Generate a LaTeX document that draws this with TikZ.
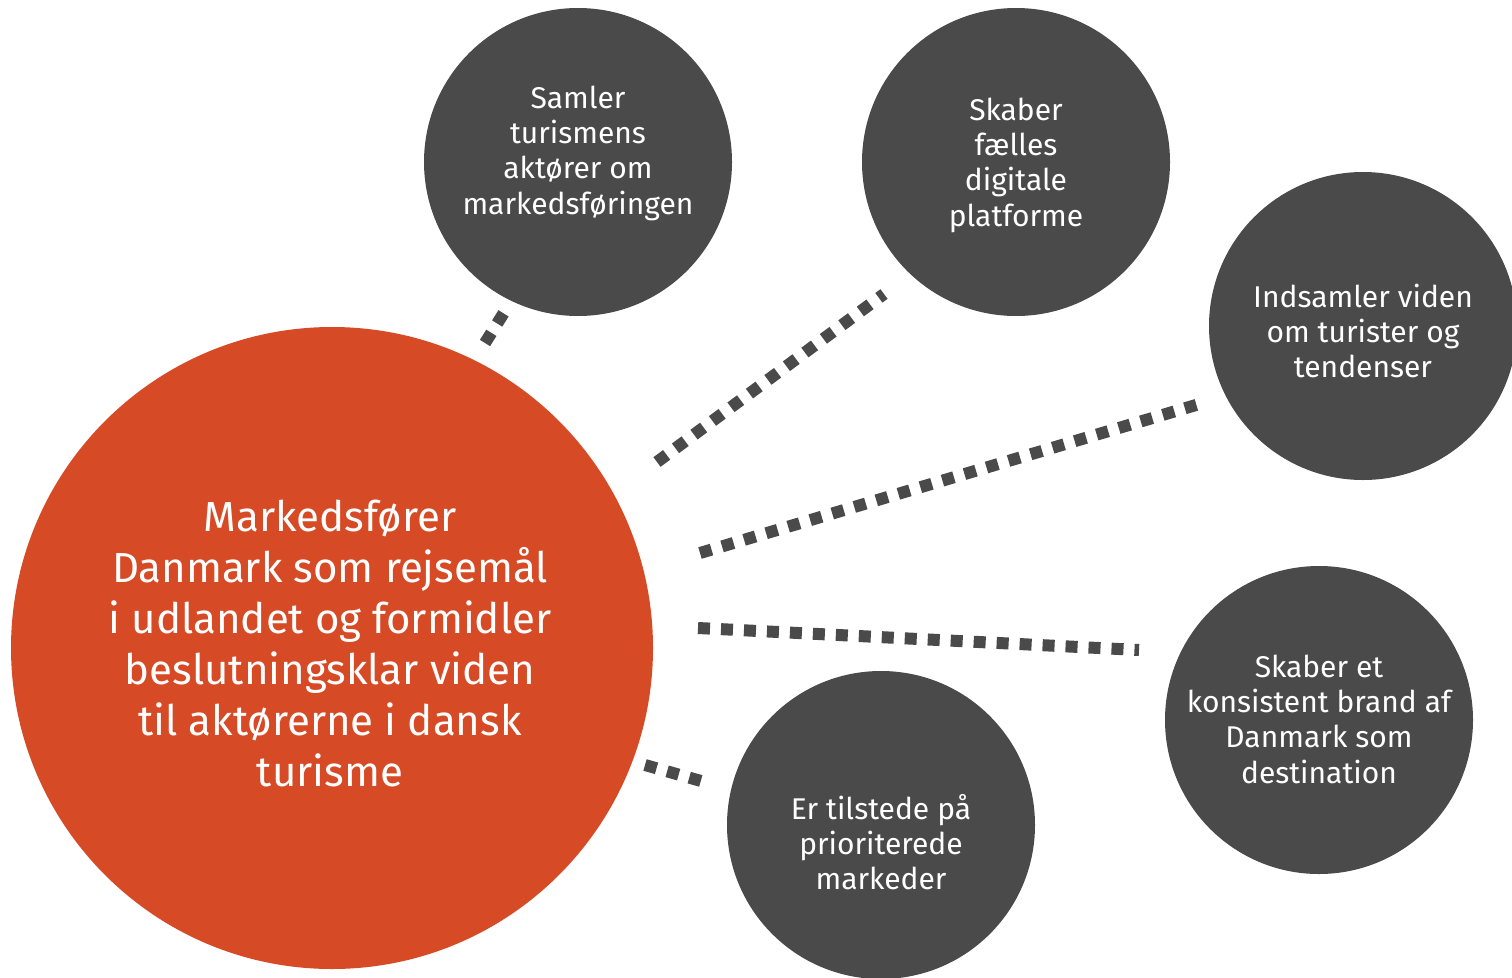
\documentclass[tikz,border=0pt]{standalone}
\usepackage{fontspec}
\setmainfont{Fira Sans}
\definecolor{visitorange}{HTML}{D64A25}
\definecolor{darkgrey}{HTML}{4A4A4A}
\begin{document}
\begin{tikzpicture}[x=1pt,y=-1pt,
    bigcircle/.style={circle,fill=visitorange,minimum size=642pt,inner sep=0pt},
    smallcircle/.style={circle,fill=darkgrey,minimum size=308pt,inner sep=0pt},
    bigtext/.style={text=white,align=center,font=\fontsize{42}{51}\selectfont},
    smalltext/.style={text=white,align=center,font=\fontsize{30}{35.3}\selectfont},
    dots/.style={darkgrey,line width=12pt,dash pattern=on 12pt off 11pt}]
  \useasboundingbox (0,0) rectangle (1512,977);

  \node [bigcircle] (main) at (332,648) {};
  \node [smallcircle] (c1) at (578,162) {};
  \node [smallcircle] (c2) at (1016,162) {};
  \node [smallcircle] (c3) at (1363,326) {};
  \node [smallcircle] (c4) at (1319,720) {};
  \node [smallcircle] (c5) at (881,825) {};

  \node [bigtext] (tmain) at ([xshift=-2pt,yshift=5pt]main.center) {Markedsfører\\Danmark som rejsemål\\i udlandet og formidler\\beslutningsklar viden\\til aktørerne i dansk\\turisme};
  \node [smalltext] (t1) at ([yshift=9pt]c1.center) {Samler\\turismens\\aktører om\\markedsføringen};
  \node [smalltext] (t2) at ([yshift=-3pt]c2.center) {Skaber\\fælles\\digitale\\platforme};
  \node [smalltext] (t3) at ([yshift=-5pt]c3.center) {Indsamler viden\\om turister og\\tendenser};
  \node [smalltext] (t4) at ([yshift=1pt]c4.center) {Skaber et\\konsistent brand af\\Danmark som\\destination};
  \node [smalltext] (t5) at ([yshift=-17pt]c5.center) {Er tilstede på\\prioriterede\\markeder};

  % dotted links
  \coordinate (a1) at (485,343);
  \coordinate (b1) at (505,311);
  \coordinate (a2) at (657,462);
  \coordinate (b2) at (884,294);
  \coordinate (a3) at (700,553);
  \coordinate (b3) at (1206,402);
  \coordinate (a4) at (698,628);
  \coordinate (b4) at (1139,650);
  \coordinate (a5) at (645,765);
  \coordinate (b5) at (701,781);

  \draw [dots] (a1) -- (b1);
  \draw [dots] (a2) -- (b2);
  \draw [dots] (a3) -- (b3);
  \draw [dots] (a4) -- (b4);
  \draw [dots] (a5) -- (b5);
\end{tikzpicture}
\end{document}
